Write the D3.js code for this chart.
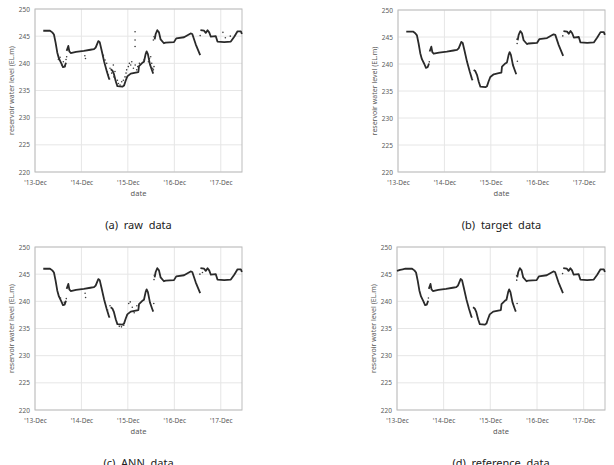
<!DOCTYPE html>
<html>
<head>
<meta charset="utf-8">
<script src="https://cdn.jsdelivr.net/npm/d3@7"></script>
<style>
  body { margin: 0; background: #fff; }
  svg { display: block; font-family: "Noto Sans", "Liberation Sans", sans-serif; }
  .tick text { fill: #595959; }
</style>
</head>
<body>
<div id="graphic"></div>
<script>
// clean water level series (target), null = gap in the record
const target = [
  ["2014-02-04",246.0],["2014-03-29",246.0],["2014-04-16",245.7],["2014-04-29",245.3],
  ["2014-05-12",243.8],["2014-05-25",242.0],["2014-06-07",240.9],["2014-06-26",240.0],
  ["2014-07-09",239.3],["2014-07-22",239.4],["2014-08-02",240.1],
  null,
  ["2014-08-07",242.3],["2014-08-20",243.2],["2014-08-28",242.2],["2014-09-08",241.9],
  ["2014-10-20",242.1],["2014-12-20",242.3],["2015-02-10",242.5],["2015-03-10",242.6],
  ["2015-03-23",242.9],["2015-04-13",244.1],["2015-04-24",243.9],["2015-05-07",242.6],
  ["2015-05-28",240.4],["2015-06-18",238.6],["2015-07-06",237.2],["2015-07-11",237.0],
  null,
  ["2015-07-19",238.9],["2015-08-01",238.7],["2015-08-14",238.0],["2015-08-28",236.7],
  ["2015-09-10",235.8],["2015-10-19",235.7],["2015-11-01",235.9],["2015-11-14",236.8],
  ["2015-11-27",237.6],["2015-12-24",238.1],["2016-02-01",238.3],["2016-02-22",238.4],
  ["2016-02-27",239.5],["2016-03-24",240.1],["2016-04-06",240.3],["2016-04-19",241.7],
  ["2016-04-27",242.2],["2016-05-07",241.7],["2016-05-23",239.8],["2016-06-10",238.6],
  ["2016-06-18",238.1],
  null,
  ["2016-06-29",244.4],["2016-07-07",245.4],["2016-07-20",246.1],["2016-08-02",245.7],
  ["2016-08-15",244.4],["2016-09-10",243.7],["2016-09-23",243.8],["2016-11-28",243.9],
  ["2016-12-16",244.6],["2017-02-15",244.8],["2017-04-08",245.5],["2017-04-21",245.4],
  ["2017-05-18",243.5],["2017-06-22",241.5],
  null,
  ["2017-06-24",246.1],["2017-07-23",246.0],["2017-08-05",245.6],["2017-08-19",246.1],
  ["2017-09-01",245.7],["2017-09-14",244.9],["2017-10-23",245.0],["2017-11-05",244.0],
  ["2017-12-28",243.9],["2018-02-18",244.0],["2018-03-17",244.9],["2018-04-12",245.9],
  ["2018-05-08",245.9],["2018-05-16",245.4]
];

// isolated readings in the gaps of the clean series
const targetDots = [
  ["2014-08-04",240.4],["2016-06-24",244.6],["2016-06-25",243.8],["2016-06-27",240.5],
  ["2017-06-19",245.2]
];

// reference series begins earlier than the target
const referenceHead = [
  ["2013-12-01",245.6],["2013-12-25",245.8],["2014-01-15",245.9]
];
const referenceDots = [
  ["2014-08-04",240.6],["2016-06-24",244.7],["2016-06-25",243.9],["2016-06-28",239.6],
  ["2017-06-19",245.1]
];

// scattered raw readings
const rawNoise = [
  ["2014-06-03",240.7],["2014-06-16",241.1],["2014-06-29",239.7],["2014-07-12",240.3],
  ["2014-07-25",239.4],["2014-08-02",240.7],["2014-08-07",241.2],
  ["2014-12-28",241.4],["2015-01-02",240.9],
  ["2015-05-23",241.5],["2015-06-05",240.6],["2015-06-18",240.0],["2015-06-23",238.5],
  ["2015-07-01",237.9],["2015-07-09",237.2],["2015-07-14",239.1],["2015-07-27",238.2],
  ["2015-08-09",239.7],["2015-08-14",237.5],["2015-08-22",238.5],["2015-08-30",236.6],
  ["2015-09-10",236.9],["2015-09-18",236.3],["2015-10-01",236.0],["2015-10-14",236.6],
  ["2015-10-27",236.9],["2015-11-09",237.5],["2015-11-17",238.2],["2015-11-22",238.8],
  ["2015-12-05",239.4],["2015-12-13",240.0],["2015-12-24",239.7],["2016-01-01",240.3],
  ["2016-01-14",239.1],["2016-01-27",245.8],["2016-01-27",244.3],["2016-01-27",243.1],
  ["2016-01-28",239.7],["2016-02-09",238.8],["2016-02-17",239.4],["2016-03-01",240.0],
  ["2016-04-06",240.6],["2016-05-11",240.3],["2016-05-19",240.9],["2016-05-29",241.2],
  ["2016-06-06",240.0],["2016-06-14",239.1],["2016-06-19",238.8],["2016-06-24",239.4],
  ["2016-06-19",244.3],["2016-06-24",244.9],
  ["2017-06-22",245.1],["2017-12-18",245.7],["2018-01-06",244.7],["2018-02-14",245.0]
];

// scattered ANN estimates
const annNoise = [
  ["2014-06-20",240.6],["2014-07-20",239.8],["2014-08-04",240.5],
  ["2014-12-30",241.5],["2015-01-03",240.7],
  ["2015-06-25",238.4],["2015-07-14",239.2],["2015-09-25",235.4],["2015-10-12",235.3],
  ["2015-10-30",235.6],["2015-12-08",239.6],["2015-12-20",239.9],["2016-01-05",238.9],
  ["2016-01-20",237.9],["2016-02-10",239.2],
  ["2016-06-22",239.6],["2016-06-24",244.0],["2016-06-26",244.8],
  ["2017-06-20",245.0],["2017-07-10",245.3]
];

const yTicks = [220, 225, 230, 235, 240, 245, 250];
const xTicks = ["2013-12-01","2014-12-01","2015-12-01","2016-12-01","2017-12-01"];
const xDomain = ["2013-12-01","2018-05-17"];
const captions = ["(a)  raw  data", "(b)  target  data", "(c)  ANN  data", "(d)  reference  data"];

const parseDate = d3.timeParse("%Y-%m-%d");
const toPoint = d => d ? { date: parseDate(d[0]), level: d[1] } : null;

const Chart = {
  create(opts){
    const instance = Object.create(this);
    Object.keys(opts).forEach(function(key){
      instance[key] = opts[key];
    });
    return instance;
  },
  lineColor: "#2a2a2a",
  gridColor: "#e6e6e6",
  borderColor: "#bdbdbd",
  createScales(){
    this.xScale = d3.scaleTime()
      .domain(xDomain.map(parseDate))
      .range([0, this.width]);
    this.yScale = d3.scaleLinear()
      .domain([220, 250])
      .range([this.height, 0]);
  },
  drawPlot(){
    this.plot = this.svg.append("g")
      .attr("transform", `translate(${this.left}, ${this.top})`);
  },
  drawAxes(){
    const xt = xTicks.map(parseDate);

    // grid lines
    this.plot.append("g")
      .selectAll("line.h")
      .data(yTicks)
      .enter().append("line")
        .attr("x1", 0).attr("x2", this.width)
        .attr("y1", d => this.yScale(d)).attr("y2", d => this.yScale(d))
        .attr("stroke", this.gridColor);
    this.plot.append("g")
      .selectAll("line.v")
      .data(xt)
      .enter().append("line")
        .attr("x1", d => this.xScale(d)).attr("x2", d => this.xScale(d))
        .attr("y1", 0).attr("y2", this.height)
        .attr("stroke", this.gridColor);

    this.plot.append("rect")
      .attr("width", this.width)
      .attr("height", this.height)
      .attr("fill", "none")
      .attr("stroke", this.borderColor);

    this.yAxis = d3.axisLeft(this.yScale)
      .tickValues(yTicks)
      .tickSize(0)
      .tickPadding(5);
    this.xAxis = d3.axisBottom(this.xScale)
      .tickValues(xt)
      .tickSize(0)
      .tickPadding(8)
      .tickFormat(d3.timeFormat("'%y-%b"));

    const gy = this.plot.append("g").call(this.yAxis);
    const gx = this.plot.append("g")
      .attr("transform", `translate(0, ${this.height})`)
      .call(this.xAxis);
    [gx, gy].forEach(g => {
      g.select(".domain").remove();
      g.selectAll("text").attr("font-size", "6.5px").attr("font-family", "'Noto Sans', sans-serif");
    });

    this.plot.append("text")
      .attr("x", this.width / 2)
      .attr("y", this.height + 24)
      .attr("text-anchor", "middle")
      .attr("font-size", "7.5px")
      .attr("fill", "#595959")
      .text("date");

    this.plot.append("text")
      .attr("transform", `translate(-21, ${this.height / 2}) rotate(-90)`)
      .attr("text-anchor", "middle")
      .attr("font-size", "7px")
      .attr("fill", "#595959")
      .text("reservoir water level (EL.m)");

    this.plot.append("text")
      .attr("x", this.width / 2)
      .attr("y", this.height + 57)
      .attr("text-anchor", "middle")
      .attr("font-size", "11px")
      .attr("fill", "#222")
      .style("white-space", "pre")
      .text(this.caption);
  },
  drawData(){
    const line = d3.line()
      .defined(d => d !== null)
      .x(d => this.xScale(d.date))
      .y(d => this.yScale(d.level));

    this.plot.append("path")
      .datum(this.series.map(toPoint))
      .attr("fill", "none")
      .attr("stroke", this.lineColor)
      .attr("stroke-width", 1.8)
      .attr("stroke-linejoin", "round")
      .attr("d", line);

    this.plot.append("g")
      .selectAll("circle")
      .data(this.dots.map(toPoint))
      .enter().append("circle")
        .attr("r", 0.8)
        .attr("fill", "#3a3a3a")
        .attr("cx", d => this.xScale(d.date))
        .attr("cy", d => this.yScale(d.level));
  },
  draw(){
    this.createScales();
    this.drawPlot();
    this.drawAxes();
    this.drawData();
  }
};

const svg = d3.select("#graphic")
  .append("svg")
  .attr("width", 614)
  .attr("height", 465);

const panels = [
  { left: 35,  top: 9,   width: 207, height: 163, series: target, dots: rawNoise },
  { left: 398, top: 10,  width: 207, height: 162, series: target, dots: targetDots },
  { left: 35,  top: 247, width: 207, height: 163, series: target, dots: annNoise },
  { left: 397, top: 247, width: 208, height: 163, series: referenceHead.concat(target), dots: referenceDots }
];

panels.forEach(function(p, i){
  Chart.create(Object.assign({ svg: svg, caption: captions[i] }, p)).draw();
});
</script>
</body>
</html>
